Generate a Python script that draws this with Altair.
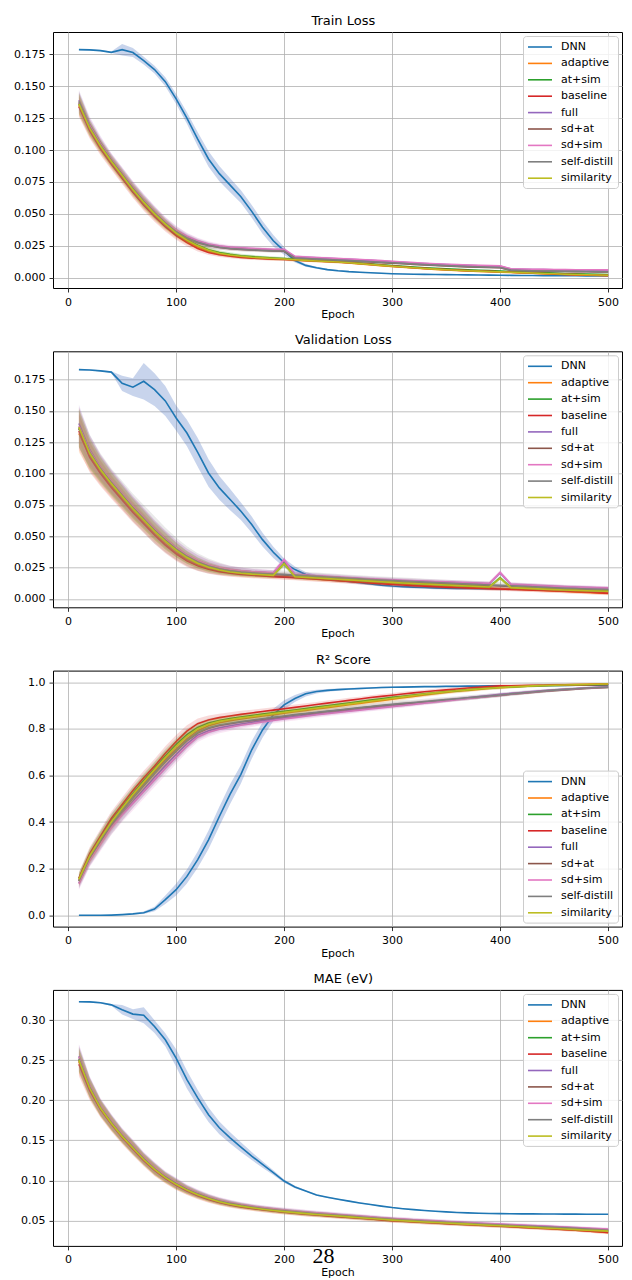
import altair as alt
import pandas as pd

EPOCHS = list(range(10, 510, 10))
SERIES = ["DNN", "adaptive", "at+sim", "baseline", "full", "sd+at", "sd+sim", "self-distill", "similarity"]
COLORS = ["#1f77b4", "#ff7f0e", "#2ca02c", "#d62728", "#9467bd", "#8c564b", "#e377c2", "#7f7f7f", "#bcbd22"]
BAND_FILLS = ["#4a6fc0", "#ff7f0e", "#2ca02c", "#d62728", "#9467bd", "#8c564b", "#e377c2", "#7f7f7f", "#bcbd22"]
BAND_OPACITY = [0.3, 0.17, 0.17, 0.17, 0.17, 0.17, 0.17, 0.17, 0.17]
X_TICKS = [0, 100, 200, 300, 400, 500]
TITLES = ["Train Loss", "Validation Loss", "R² Score", "MAE (eV)"]
PAGE_NUMBER = ["28"]

# ---------------- Train Loss ----------------
train_dnn = [
    0.1786, 0.1784, 0.1778, 0.1765, 0.1786, 0.1763, 0.1700, 0.1630, 0.1535, 0.1400,
    0.1250, 0.1085, 0.0930, 0.0815, 0.0725, 0.0635, 0.0520, 0.0395, 0.0290, 0.0210,
    0.0135, 0.0097, 0.0078, 0.0064, 0.0055, 0.0048, 0.0043, 0.0039, 0.0035, 0.0032,
    0.0030, 0.0028, 0.0027, 0.0026, 0.0025, 0.0024, 0.0023, 0.0022, 0.0021, 0.0020,
    0.0019, 0.0018, 0.0018, 0.0017, 0.0017, 0.0016, 0.0016, 0.0015, 0.0015, 0.0015]
train_adaptive = [
    0.135, 0.116, 0.102, 0.090, 0.079, 0.068, 0.058, 0.049, 0.041, 0.034,
    0.0288, 0.0243, 0.0210, 0.0188, 0.0174, 0.0165, 0.0158, 0.0153, 0.0149, 0.0145,
    0.0139, 0.0134, 0.0129, 0.0125, 0.0121, 0.0116, 0.0109, 0.0102, 0.0095, 0.0088,
    0.0082, 0.0076, 0.0071, 0.0066, 0.0061, 0.0057, 0.0053, 0.0050, 0.0047, 0.0044,
    0.0041, 0.0038, 0.0035, 0.0032, 0.0029, 0.0026, 0.0023, 0.0021, 0.0019, 0.0017]
train_at_sim = [
    0.136, 0.117, 0.103, 0.091, 0.080, 0.069, 0.059, 0.050, 0.042, 0.0352,
    0.0298, 0.0254, 0.0220, 0.0197, 0.0183, 0.0173, 0.0166, 0.0160, 0.0155, 0.0151,
    0.0144, 0.0139, 0.0135, 0.0131, 0.0127, 0.0122, 0.0116, 0.0109, 0.0102, 0.0096,
    0.0090, 0.0084, 0.0079, 0.0074, 0.0070, 0.0066, 0.0062, 0.0059, 0.0056, 0.0053,
    0.0049, 0.0046, 0.0043, 0.0040, 0.0037, 0.0034, 0.0032, 0.0030, 0.0028, 0.0026]
train_baseline = [
    0.134, 0.115, 0.101, 0.089, 0.078, 0.067, 0.057, 0.048, 0.040, 0.033,
    0.0275, 0.0230, 0.0198, 0.0180, 0.0168, 0.0160, 0.0154, 0.0150, 0.0146, 0.0143,
    0.0139, 0.0135, 0.0131, 0.0127, 0.0123, 0.0118, 0.0112, 0.0105, 0.0098, 0.0091,
    0.0085, 0.0079, 0.0074, 0.0069, 0.0064, 0.0060, 0.0056, 0.0053, 0.0050, 0.0047,
    0.0043, 0.0039, 0.0036, 0.0033, 0.0030, 0.0027, 0.0025, 0.0023, 0.0021, 0.0019]
train_full = [
    0.139, 0.120, 0.106, 0.093, 0.082, 0.071, 0.061, 0.052, 0.0435, 0.037,
    0.0320, 0.0285, 0.0260, 0.0245, 0.0235, 0.0230, 0.0225, 0.0222, 0.0219, 0.0218,
    0.0165, 0.0160, 0.0156, 0.0152, 0.0148, 0.0144, 0.0140, 0.0136, 0.0131, 0.0126,
    0.0121, 0.0116, 0.0111, 0.0107, 0.0103, 0.0100, 0.0097, 0.0094, 0.0092, 0.0090,
    0.0069, 0.0067, 0.0065, 0.0064, 0.0063, 0.0062, 0.0061, 0.0061, 0.0060, 0.0060]
train_sd_at = [
    0.137, 0.118, 0.104, 0.092, 0.081, 0.070, 0.060, 0.051, 0.0425, 0.0355,
    0.0308, 0.0275, 0.0252, 0.0237, 0.0228, 0.0222, 0.0217, 0.0213, 0.0210, 0.0208,
    0.0152, 0.0147, 0.0143, 0.0139, 0.0135, 0.0131, 0.0127, 0.0123, 0.0119, 0.0115,
    0.0110, 0.0105, 0.0100, 0.0096, 0.0092, 0.0088, 0.0085, 0.0082, 0.0080, 0.0078,
    0.0058, 0.0055, 0.0053, 0.0051, 0.0050, 0.0049, 0.0048, 0.0047, 0.0046, 0.0045]
train_sd_sim = [
    0.137, 0.119, 0.105, 0.093, 0.082, 0.071, 0.061, 0.052, 0.044, 0.0375,
    0.0325, 0.0290, 0.0265, 0.0250, 0.0240, 0.0235, 0.0230, 0.0226, 0.0223, 0.0222,
    0.0168, 0.0163, 0.0159, 0.0155, 0.0151, 0.0147, 0.0143, 0.0139, 0.0134, 0.0129,
    0.0124, 0.0119, 0.0114, 0.0110, 0.0106, 0.0103, 0.0100, 0.0097, 0.0095, 0.0093,
    0.0071, 0.0069, 0.0067, 0.0066, 0.0065, 0.0064, 0.0063, 0.0063, 0.0062, 0.0062]
train_self_distill = [
    0.138, 0.118, 0.104, 0.092, 0.081, 0.070, 0.060, 0.051, 0.043, 0.036,
    0.0312, 0.0278, 0.0254, 0.0239, 0.0229, 0.0223, 0.0218, 0.0214, 0.0211, 0.0210,
    0.0155, 0.0150, 0.0146, 0.0142, 0.0138, 0.0134, 0.0130, 0.0126, 0.0122, 0.0118,
    0.0113, 0.0108, 0.0103, 0.0099, 0.0095, 0.0091, 0.0088, 0.0085, 0.0083, 0.0081,
    0.0060, 0.0057, 0.0055, 0.0053, 0.0052, 0.0051, 0.0050, 0.0049, 0.0048, 0.0047]
train_similarity = [
    0.136, 0.117, 0.103, 0.091, 0.080, 0.069, 0.059, 0.050, 0.042, 0.035,
    0.0295, 0.0250, 0.0215, 0.0192, 0.0178, 0.0168, 0.0161, 0.0156, 0.0151, 0.0147,
    0.0141, 0.0136, 0.0131, 0.0127, 0.0123, 0.0118, 0.0111, 0.0104, 0.0097, 0.0090,
    0.0084, 0.0078, 0.0073, 0.0068, 0.0063, 0.0059, 0.0055, 0.0052, 0.0049, 0.0046,
    0.0043, 0.0040, 0.0037, 0.0034, 0.0031, 0.0028, 0.0026, 0.0024, 0.0022, 0.0020]
train_dnn_std = [
    0.0004, 0.0004, 0.0005, 0.0006, 0.0045, 0.0035, 0.0030, 0.0030, 0.0035, 0.0040,
    0.0045, 0.0055, 0.0060, 0.0060, 0.0055, 0.0050, 0.0050, 0.0050, 0.0045, 0.0030,
    0.0015, 0.0010, 0.0008, 0.0007, 0.0006, 0.0005, 0.0005, 0.0004, 0.0004, 0.0004,
    0.0003, 0.0003, 0.0003, 0.0003, 0.0003, 0.0003, 0.0003, 0.0003, 0.0003, 0.0003,
    0.0003, 0.0003, 0.0003, 0.0003, 0.0003, 0.0003, 0.0003, 0.0003, 0.0003, 0.0003]
train_model_std = [
    0.0080, 0.0060, 0.0050, 0.0045, 0.0045, 0.0045, 0.0045, 0.0042, 0.0038, 0.0033,
    0.0028, 0.0024, 0.0020, 0.0018, 0.0016, 0.0015, 0.0014, 0.0013, 0.0013, 0.0012,
    0.0011, 0.0010, 0.0010, 0.0009, 0.0009, 0.0009, 0.0008, 0.0008, 0.0008, 0.0008,
    0.0007, 0.0007, 0.0007, 0.0007, 0.0007, 0.0007, 0.0007, 0.0007, 0.0007, 0.0007,
    0.0006, 0.0006, 0.0006, 0.0006, 0.0006, 0.0006, 0.0006, 0.0006, 0.0006, 0.0006]

# ---------------- Validation Loss ----------------
val_dnn = [
    0.1830, 0.1827, 0.1820, 0.1810, 0.1720, 0.1690, 0.1737, 0.1670, 0.1580, 0.1444,
    0.1324, 0.1170, 0.1005, 0.0886, 0.0793, 0.0700, 0.0593, 0.0473, 0.0372, 0.0287,
    0.0234, 0.0194, 0.0173, 0.0160, 0.0150, 0.0140, 0.0130, 0.0120, 0.0110, 0.0103,
    0.0098, 0.0094, 0.0091, 0.0088, 0.0086, 0.0084, 0.0083, 0.0082, 0.0081, 0.0080,
    0.0079, 0.0078, 0.0077, 0.0076, 0.0075, 0.0075, 0.0074, 0.0074, 0.0073, 0.0073]
val_adaptive = [
    0.132, 0.114, 0.101, 0.090, 0.080, 0.070, 0.061, 0.052, 0.044, 0.037,
    0.0315, 0.0272, 0.0243, 0.0223, 0.0210, 0.0200, 0.0193, 0.0187, 0.0182, 0.0178,
    0.0172, 0.0166, 0.0160, 0.0154, 0.0148, 0.0142, 0.0136, 0.0131, 0.0126, 0.0121,
    0.0116, 0.0111, 0.0107, 0.0103, 0.0099, 0.0095, 0.0092, 0.0089, 0.0086, 0.0083,
    0.0080, 0.0076, 0.0072, 0.0068, 0.0064, 0.0060, 0.0056, 0.0052, 0.0048, 0.0044]
val_at_sim = [
    0.136, 0.116, 0.103, 0.092, 0.082, 0.072, 0.063, 0.054, 0.046, 0.039,
    0.0330, 0.0286, 0.0253, 0.0231, 0.0216, 0.0206, 0.0199, 0.0194, 0.0189, 0.0282,
    0.0178, 0.0173, 0.0168, 0.0163, 0.0158, 0.0153, 0.0148, 0.0143, 0.0138, 0.0133,
    0.0128, 0.0124, 0.0120, 0.0116, 0.0112, 0.0108, 0.0104, 0.0100, 0.0096, 0.0168,
    0.0092, 0.0088, 0.0084, 0.0080, 0.0077, 0.0074, 0.0071, 0.0068, 0.0066, 0.0064]
val_baseline = [
    0.134, 0.113, 0.100, 0.089, 0.079, 0.069, 0.060, 0.051, 0.043, 0.036,
    0.0305, 0.0265, 0.0237, 0.0218, 0.0205, 0.0196, 0.0189, 0.0183, 0.0178, 0.0174,
    0.0169, 0.0163, 0.0157, 0.0151, 0.0145, 0.0139, 0.0133, 0.0127, 0.0121, 0.0116,
    0.0111, 0.0106, 0.0102, 0.0098, 0.0094, 0.0091, 0.0088, 0.0085, 0.0082, 0.0079,
    0.0076, 0.0073, 0.0070, 0.0067, 0.0064, 0.0061, 0.0058, 0.0055, 0.0050, 0.0046]
val_full = [
    0.140, 0.119, 0.105, 0.094, 0.084, 0.074, 0.065, 0.056, 0.048, 0.041,
    0.0350, 0.0305, 0.0272, 0.0249, 0.0233, 0.0223, 0.0216, 0.0211, 0.0207, 0.0308,
    0.0193, 0.0187, 0.0182, 0.0177, 0.0172, 0.0167, 0.0162, 0.0157, 0.0153, 0.0149,
    0.0145, 0.0142, 0.0139, 0.0136, 0.0133, 0.0130, 0.0127, 0.0124, 0.0121, 0.0208,
    0.0115, 0.0111, 0.0107, 0.0103, 0.0099, 0.0096, 0.0093, 0.0090, 0.0088, 0.0086]
val_sd_at = [
    0.136, 0.117, 0.104, 0.093, 0.083, 0.073, 0.064, 0.055, 0.047, 0.0395,
    0.0335, 0.0290, 0.0258, 0.0236, 0.0221, 0.0211, 0.0204, 0.0199, 0.0195, 0.0192,
    0.0186, 0.0181, 0.0176, 0.0171, 0.0166, 0.0161, 0.0156, 0.0151, 0.0147, 0.0143,
    0.0139, 0.0135, 0.0131, 0.0127, 0.0123, 0.0119, 0.0115, 0.0111, 0.0107, 0.0104,
    0.0100, 0.0096, 0.0092, 0.0088, 0.0084, 0.0081, 0.0078, 0.0075, 0.0073, 0.0071]
val_sd_sim = [
    0.138, 0.118, 0.105, 0.094, 0.084, 0.074, 0.065, 0.056, 0.048, 0.041,
    0.0352, 0.0308, 0.0275, 0.0252, 0.0236, 0.0226, 0.0219, 0.0214, 0.0210, 0.0312,
    0.0196, 0.0190, 0.0185, 0.0180, 0.0175, 0.0170, 0.0165, 0.0160, 0.0156, 0.0152,
    0.0148, 0.0145, 0.0142, 0.0139, 0.0136, 0.0133, 0.0130, 0.0127, 0.0124, 0.0212,
    0.0118, 0.0114, 0.0110, 0.0106, 0.0102, 0.0098, 0.0095, 0.0092, 0.0090, 0.0088]
val_self_distill = [
    0.137, 0.117, 0.104, 0.093, 0.083, 0.073, 0.064, 0.055, 0.047, 0.040,
    0.0340, 0.0295, 0.0262, 0.0240, 0.0225, 0.0215, 0.0208, 0.0203, 0.0199, 0.0196,
    0.0190, 0.0185, 0.0180, 0.0175, 0.0170, 0.0165, 0.0160, 0.0155, 0.0151, 0.0147,
    0.0143, 0.0139, 0.0135, 0.0131, 0.0127, 0.0123, 0.0119, 0.0115, 0.0111, 0.0108,
    0.0104, 0.0100, 0.0096, 0.0092, 0.0088, 0.0085, 0.0082, 0.0079, 0.0077, 0.0075]
val_similarity = [
    0.137, 0.116, 0.103, 0.092, 0.082, 0.072, 0.063, 0.054, 0.046, 0.039,
    0.0330, 0.0285, 0.0252, 0.0230, 0.0215, 0.0205, 0.0198, 0.0193, 0.0188, 0.0280,
    0.0177, 0.0172, 0.0167, 0.0162, 0.0157, 0.0152, 0.0147, 0.0142, 0.0137, 0.0132,
    0.0127, 0.0123, 0.0119, 0.0115, 0.0111, 0.0107, 0.0103, 0.0099, 0.0095, 0.0165,
    0.0090, 0.0086, 0.0082, 0.0078, 0.0074, 0.0071, 0.0068, 0.0065, 0.0063, 0.0061]
val_dnn_std = [
    0.0005, 0.0005, 0.0005, 0.0006, 0.0060, 0.0070, 0.0145, 0.0130, 0.0120, 0.0100,
    0.0105, 0.0115, 0.0110, 0.0095, 0.0085, 0.0070, 0.0065, 0.0055, 0.0045, 0.0035,
    0.0025, 0.0020, 0.0018, 0.0016, 0.0015, 0.0014, 0.0013, 0.0012, 0.0012, 0.0011,
    0.0010, 0.0010, 0.0010, 0.0010, 0.0010, 0.0010, 0.0010, 0.0010, 0.0010, 0.0010,
    0.0010, 0.0010, 0.0010, 0.0010, 0.0010, 0.0010, 0.0010, 0.0010, 0.0010, 0.0010]
val_model_std = [
    0.0150, 0.0120, 0.0100, 0.0090, 0.0085, 0.0080, 0.0075, 0.0070, 0.0065, 0.0058,
    0.0050, 0.0043, 0.0037, 0.0032, 0.0028, 0.0026, 0.0024, 0.0023, 0.0022, 0.0022,
    0.0021, 0.0020, 0.0020, 0.0019, 0.0019, 0.0018, 0.0018, 0.0018, 0.0017, 0.0017,
    0.0017, 0.0017, 0.0016, 0.0016, 0.0016, 0.0016, 0.0016, 0.0016, 0.0016, 0.0016,
    0.0015, 0.0015, 0.0015, 0.0015, 0.0015, 0.0015, 0.0015, 0.0015, 0.0015, 0.0015]
val_self_distill_std = [
    0.0160, 0.0140, 0.0120, 0.0110, 0.0110, 0.0110, 0.0110, 0.0110, 0.0100, 0.0090,
    0.0080, 0.0070, 0.0060, 0.0050, 0.0040, 0.0035, 0.0030, 0.0030, 0.0030, 0.0030,
    0.0030, 0.0030, 0.0030, 0.0029, 0.0029, 0.0028, 0.0028, 0.0028, 0.0027, 0.0027,
    0.0027, 0.0027, 0.0026, 0.0026, 0.0026, 0.0026, 0.0026, 0.0026, 0.0025, 0.0025,
    0.0025, 0.0025, 0.0025, 0.0024, 0.0024, 0.0023, 0.0022, 0.0021, 0.0020, 0.0020]

# ---------------- R² Score ----------------
r2_dnn = [
    0.000, 0.000, 0.000, 0.001, 0.003, 0.006, 0.011, 0.027, 0.067, 0.110,
    0.167, 0.239, 0.324, 0.424, 0.520, 0.605, 0.710, 0.795, 0.860, 0.903,
    0.930, 0.950, 0.960, 0.965, 0.968, 0.971, 0.973, 0.975, 0.977, 0.978,
    0.979, 0.980, 0.981, 0.981, 0.982, 0.982, 0.983, 0.983, 0.984, 0.984,
    0.985, 0.985, 0.985, 0.986, 0.986, 0.986, 0.987, 0.987, 0.987, 0.988]
r2_adaptive = [
    0.150, 0.250, 0.325, 0.395, 0.455, 0.512, 0.565, 0.617, 0.668, 0.713,
    0.757, 0.792, 0.813, 0.826, 0.835, 0.842, 0.849, 0.855, 0.861, 0.867,
    0.873, 0.879, 0.885, 0.891, 0.897, 0.903, 0.909, 0.915, 0.921, 0.927,
    0.933, 0.939, 0.945, 0.951, 0.956, 0.961, 0.965, 0.969, 0.973, 0.976,
    0.979, 0.982, 0.984, 0.986, 0.988, 0.989, 0.990, 0.991, 0.992, 0.993]
r2_at_sim = [
    0.158, 0.258, 0.333, 0.405, 0.465, 0.523, 0.578, 0.630, 0.683, 0.732,
    0.775, 0.806, 0.825, 0.836, 0.844, 0.851, 0.857, 0.863, 0.869, 0.875,
    0.881, 0.887, 0.893, 0.899, 0.905, 0.911, 0.917, 0.923, 0.929, 0.935,
    0.940, 0.945, 0.950, 0.955, 0.960, 0.964, 0.968, 0.972, 0.975, 0.978,
    0.980, 0.982, 0.984, 0.985, 0.986, 0.987, 0.988, 0.989, 0.989, 0.990]
r2_baseline = [
    0.160, 0.265, 0.340, 0.415, 0.475, 0.535, 0.590, 0.640, 0.695, 0.745,
    0.790, 0.822, 0.838, 0.848, 0.855, 0.862, 0.868, 0.874, 0.880, 0.886,
    0.892, 0.898, 0.904, 0.910, 0.916, 0.922, 0.928, 0.934, 0.939, 0.944,
    0.949, 0.954, 0.959, 0.963, 0.967, 0.971, 0.975, 0.978, 0.981, 0.984,
    0.985, 0.986, 0.987, 0.987, 0.988, 0.988, 0.989, 0.989, 0.990, 0.990]
r2_full = [
    0.138, 0.240, 0.312, 0.382, 0.438, 0.490, 0.541, 0.592, 0.642, 0.690,
    0.736, 0.773, 0.792, 0.804, 0.813, 0.821, 0.828, 0.835, 0.841, 0.847,
    0.853, 0.858, 0.863, 0.868, 0.873, 0.878, 0.883, 0.888, 0.893, 0.898,
    0.903, 0.908, 0.913, 0.918, 0.923, 0.928, 0.933, 0.938, 0.943, 0.948,
    0.952, 0.956, 0.960, 0.964, 0.967, 0.970, 0.973, 0.976, 0.978, 0.980]
r2_sd_at = [
    0.147, 0.246, 0.320, 0.390, 0.448, 0.503, 0.556, 0.608, 0.658, 0.704,
    0.748, 0.782, 0.802, 0.814, 0.822, 0.829, 0.835, 0.841, 0.847, 0.853,
    0.859, 0.864, 0.869, 0.874, 0.879, 0.884, 0.889, 0.894, 0.899, 0.903,
    0.907, 0.911, 0.915, 0.919, 0.923, 0.927, 0.931, 0.935, 0.939, 0.943,
    0.948, 0.952, 0.956, 0.960, 0.964, 0.967, 0.970, 0.973, 0.975, 0.977]
r2_sd_sim = [
    0.135, 0.235, 0.305, 0.375, 0.430, 0.480, 0.530, 0.580, 0.630, 0.678,
    0.725, 0.765, 0.785, 0.798, 0.807, 0.815, 0.822, 0.829, 0.836, 0.842,
    0.848, 0.854, 0.860, 0.865, 0.870, 0.875, 0.880, 0.885, 0.890, 0.895,
    0.900, 0.905, 0.910, 0.915, 0.920, 0.925, 0.930, 0.935, 0.940, 0.945,
    0.950, 0.954, 0.958, 0.962, 0.966, 0.969, 0.972, 0.975, 0.977, 0.979]
r2_self_distill = [
    0.148, 0.248, 0.322, 0.392, 0.450, 0.505, 0.558, 0.610, 0.660, 0.706,
    0.750, 0.784, 0.804, 0.816, 0.824, 0.831, 0.837, 0.843, 0.849, 0.855,
    0.861, 0.866, 0.871, 0.876, 0.881, 0.886, 0.891, 0.896, 0.901, 0.905,
    0.909, 0.913, 0.917, 0.921, 0.925, 0.929, 0.933, 0.937, 0.941, 0.945,
    0.950, 0.954, 0.958, 0.962, 0.966, 0.969, 0.972, 0.975, 0.977, 0.979]
r2_similarity = [
    0.155, 0.255, 0.330, 0.400, 0.460, 0.518, 0.572, 0.625, 0.677, 0.725,
    0.768, 0.800, 0.820, 0.832, 0.840, 0.847, 0.853, 0.859, 0.865, 0.871,
    0.877, 0.883, 0.889, 0.895, 0.901, 0.907, 0.913, 0.919, 0.925, 0.931,
    0.937, 0.943, 0.949, 0.954, 0.959, 0.963, 0.967, 0.971, 0.974, 0.977,
    0.980, 0.982, 0.984, 0.986, 0.987, 0.988, 0.989, 0.990, 0.991, 0.992]
r2_dnn_std = [
    0.0005, 0.0005, 0.0005, 0.0008, 0.0020, 0.0030, 0.0050, 0.0100, 0.0180, 0.0250,
    0.0300, 0.0350, 0.0400, 0.0420, 0.0420, 0.0400, 0.0380, 0.0330, 0.0260, 0.0200,
    0.0150, 0.0110, 0.0080, 0.0060, 0.0050, 0.0040, 0.0040, 0.0030, 0.0030, 0.0030,
    0.0025, 0.0025, 0.0025, 0.0025, 0.0025, 0.0025, 0.0025, 0.0025, 0.0025, 0.0025,
    0.0025, 0.0025, 0.0025, 0.0025, 0.0025, 0.0025, 0.0025, 0.0025, 0.0025, 0.0025]
r2_model_std = [
    0.025, 0.028, 0.030, 0.030, 0.030, 0.030, 0.030, 0.030, 0.030, 0.028,
    0.025, 0.022, 0.019, 0.017, 0.016, 0.015, 0.014, 0.013, 0.013, 0.012,
    0.012, 0.012, 0.011, 0.011, 0.011, 0.011, 0.010, 0.010, 0.010, 0.010,
    0.010, 0.009, 0.009, 0.009, 0.008, 0.008, 0.008, 0.007, 0.007, 0.007,
    0.006, 0.006, 0.006, 0.005, 0.005, 0.005, 0.005, 0.004, 0.004, 0.004]
r2_self_distill_std = [
    0.030, 0.035, 0.040, 0.045, 0.045, 0.045, 0.045, 0.045, 0.045, 0.042,
    0.036, 0.030, 0.025, 0.022, 0.020, 0.019, 0.018, 0.017, 0.016, 0.016,
    0.015, 0.015, 0.015, 0.014, 0.014, 0.014, 0.014, 0.013, 0.013, 0.013,
    0.013, 0.012, 0.012, 0.012, 0.011, 0.011, 0.011, 0.010, 0.010, 0.010,
    0.009, 0.009, 0.008, 0.008, 0.007, 0.007, 0.006, 0.006, 0.005, 0.005]

# ---------------- MAE (eV) ----------------
mae_dnn = [
    0.3230, 0.3228, 0.3216, 0.3190, 0.3130, 0.3075, 0.3060, 0.2920, 0.2755, 0.2527,
    0.2258, 0.2030, 0.1820, 0.1657, 0.1532, 0.1416, 0.1304, 0.1200, 0.1097, 0.0993,
    0.0919, 0.0869, 0.0818, 0.0790, 0.0765, 0.0742, 0.0720, 0.0700, 0.0680, 0.0662,
    0.0648, 0.0636, 0.0625, 0.0616, 0.0608, 0.0601, 0.0596, 0.0592, 0.0589, 0.0587,
    0.0585, 0.0584, 0.0583, 0.0582, 0.0581, 0.0580, 0.0580, 0.0579, 0.0579, 0.0578]
mae_adaptive = [
    0.248, 0.2140, 0.1895, 0.1710, 0.1545, 0.1400, 0.1257, 0.1133, 0.1030, 0.0947,
    0.0875, 0.0817, 0.0769, 0.0730, 0.0700, 0.0676, 0.0656, 0.0638, 0.0622, 0.0608,
    0.0595, 0.0583, 0.0572, 0.0562, 0.0552, 0.0542, 0.0532, 0.0522, 0.0512, 0.0502,
    0.0494, 0.0486, 0.0479, 0.0472, 0.0465, 0.0458, 0.0451, 0.0444, 0.0438, 0.0432,
    0.0425, 0.0418, 0.0411, 0.0404, 0.0397, 0.0390, 0.0380, 0.0370, 0.0360, 0.0350]
mae_at_sim = [
    0.251, 0.2155, 0.1905, 0.1720, 0.1555, 0.1410, 0.1266, 0.1142, 0.1039, 0.0956,
    0.0884, 0.0826, 0.0778, 0.0739, 0.0708, 0.0684, 0.0664, 0.0646, 0.0630, 0.0616,
    0.0603, 0.0591, 0.0580, 0.0570, 0.0560, 0.0550, 0.0540, 0.0530, 0.0520, 0.0510,
    0.0502, 0.0494, 0.0487, 0.0480, 0.0473, 0.0466, 0.0459, 0.0452, 0.0446, 0.0440,
    0.0433, 0.0426, 0.0419, 0.0412, 0.0405, 0.0398, 0.0391, 0.0384, 0.0375, 0.0366]
mae_baseline = [
    0.245, 0.2120, 0.1885, 0.1700, 0.1535, 0.1390, 0.1248, 0.1125, 0.1022, 0.0940,
    0.0868, 0.0810, 0.0763, 0.0725, 0.0695, 0.0671, 0.0651, 0.0634, 0.0619, 0.0605,
    0.0592, 0.0580, 0.0569, 0.0559, 0.0549, 0.0539, 0.0529, 0.0519, 0.0509, 0.0499,
    0.0491, 0.0483, 0.0476, 0.0469, 0.0462, 0.0455, 0.0448, 0.0441, 0.0435, 0.0429,
    0.0422, 0.0415, 0.0408, 0.0401, 0.0394, 0.0387, 0.0380, 0.0372, 0.0362, 0.0352]
mae_full = [
    0.255, 0.2175, 0.1920, 0.1735, 0.1570, 0.1425, 0.1281, 0.1157, 0.1053, 0.0970,
    0.0898, 0.0840, 0.0791, 0.0751, 0.0720, 0.0695, 0.0675, 0.0657, 0.0641, 0.0627,
    0.0614, 0.0602, 0.0591, 0.0581, 0.0571, 0.0561, 0.0551, 0.0541, 0.0531, 0.0521,
    0.0513, 0.0505, 0.0498, 0.0491, 0.0484, 0.0477, 0.0470, 0.0463, 0.0457, 0.0451,
    0.0445, 0.0439, 0.0433, 0.0427, 0.0421, 0.0415, 0.0408, 0.0401, 0.0394, 0.0387]
mae_sd_at = [
    0.250, 0.2160, 0.1908, 0.1723, 0.1558, 0.1413, 0.1270, 0.1146, 0.1043, 0.0960,
    0.0888, 0.0830, 0.0782, 0.0742, 0.0711, 0.0686, 0.0666, 0.0648, 0.0632, 0.0618,
    0.0605, 0.0593, 0.0582, 0.0572, 0.0562, 0.0552, 0.0542, 0.0532, 0.0522, 0.0512,
    0.0504, 0.0496, 0.0489, 0.0482, 0.0475, 0.0468, 0.0461, 0.0454, 0.0448, 0.0442,
    0.0436, 0.0430, 0.0424, 0.0418, 0.0412, 0.0406, 0.0399, 0.0392, 0.0385, 0.0378]
mae_sd_sim = [
    0.254, 0.2180, 0.1925, 0.1740, 0.1575, 0.1430, 0.1286, 0.1162, 0.1058, 0.0975,
    0.0903, 0.0845, 0.0796, 0.0756, 0.0725, 0.0700, 0.0680, 0.0662, 0.0646, 0.0632,
    0.0619, 0.0607, 0.0596, 0.0586, 0.0576, 0.0566, 0.0556, 0.0546, 0.0536, 0.0526,
    0.0518, 0.0510, 0.0503, 0.0496, 0.0489, 0.0482, 0.0475, 0.0468, 0.0462, 0.0456,
    0.0450, 0.0444, 0.0438, 0.0432, 0.0426, 0.0420, 0.0414, 0.0407, 0.0400, 0.0393]
mae_self_distill = [
    0.252, 0.2165, 0.1912, 0.1727, 0.1562, 0.1417, 0.1273, 0.1149, 0.1046, 0.0963,
    0.0891, 0.0833, 0.0785, 0.0745, 0.0714, 0.0689, 0.0669, 0.0651, 0.0635, 0.0621,
    0.0608, 0.0596, 0.0585, 0.0575, 0.0565, 0.0555, 0.0545, 0.0535, 0.0525, 0.0515,
    0.0507, 0.0499, 0.0492, 0.0485, 0.0478, 0.0471, 0.0464, 0.0457, 0.0451, 0.0445,
    0.0439, 0.0433, 0.0427, 0.0421, 0.0415, 0.0409, 0.0402, 0.0395, 0.0387, 0.0379]
mae_similarity = [
    0.250, 0.2150, 0.1900, 0.1715, 0.1550, 0.1405, 0.1262, 0.1138, 0.1035, 0.0952,
    0.0880, 0.0822, 0.0774, 0.0735, 0.0704, 0.0680, 0.0660, 0.0642, 0.0626, 0.0612,
    0.0599, 0.0587, 0.0576, 0.0566, 0.0556, 0.0546, 0.0536, 0.0526, 0.0516, 0.0506,
    0.0498, 0.0490, 0.0483, 0.0476, 0.0469, 0.0462, 0.0455, 0.0448, 0.0442, 0.0436,
    0.0429, 0.0422, 0.0415, 0.0408, 0.0401, 0.0394, 0.0387, 0.0380, 0.0374, 0.0368]
mae_dnn_std = [
    0.0010, 0.0010, 0.0010, 0.0010, 0.0060, 0.0060, 0.0100, 0.0080, 0.0080, 0.0110,
    0.0110, 0.0100, 0.0090, 0.0080, 0.0070, 0.0060, 0.0050, 0.0040, 0.0030, 0.0020,
    0.0015, 0.0010, 0.0010, 0.0008, 0.0008, 0.0007, 0.0007, 0.0006, 0.0006, 0.0006,
    0.0005, 0.0005, 0.0005, 0.0005, 0.0005, 0.0005, 0.0005, 0.0005, 0.0005, 0.0005,
    0.0005, 0.0005, 0.0005, 0.0005, 0.0005, 0.0005, 0.0005, 0.0005, 0.0005, 0.0005]
mae_model_std = [
    0.0150, 0.0120, 0.0100, 0.0090, 0.0080, 0.0080, 0.0070, 0.0070, 0.0060, 0.0060,
    0.0050, 0.0045, 0.0040, 0.0038, 0.0035, 0.0033, 0.0030, 0.0030, 0.0030, 0.0030,
    0.0030, 0.0029, 0.0028, 0.0028, 0.0027, 0.0027, 0.0026, 0.0026, 0.0025, 0.0025,
    0.0025, 0.0024, 0.0024, 0.0024, 0.0023, 0.0023, 0.0023, 0.0022, 0.0022, 0.0022,
    0.0022, 0.0021, 0.0021, 0.0021, 0.0021, 0.0020, 0.0020, 0.0020, 0.0020, 0.0020]

FONT = "DejaVu Sans"
PLOT_W = 569
PLOT_H = 256


def build_frame(series_lists, dnn_std, model_std, special_std=None):
    special_std = special_std or {}
    rows = []
    for name, vals in zip(SERIES, series_lists):
        if name == "DNN":
            std = dnn_std
        else:
            std = special_std.get(name, model_std)
        for e, v, s in zip(EPOCHS, vals, std):
            rows.append({"epoch": e, "series": name, "mean": v, "lo": v - s, "hi": v + s})
    return pd.DataFrame(rows)


def make_legend(orient):
    return alt.Legend(
        title=None, orient=orient, offset=4,
        symbolType="M-1,0H3", symbolSize=144, symbolStrokeWidth=1.6, symbolOpacity=1,
        labelFont=FONT, labelFontSize=11, labelColor="black", labelOffset=20,
        labelLimit=200, rowPadding=4.4, padding=4,
        fillColor="rgba(255,255,255,0.8)", strokeColor="#cccccc", cornerRadius=3,
    )


def panel(df, title, ydom, yticks, yfmt, legend_orient, extra=None):
    xscale = alt.Scale(domain=[-14.0, 512.85], nice=False, zero=False)
    yscale = alt.Scale(domain=ydom, nice=False, zero=False)
    xaxis = alt.Axis(values=X_TICKS, title="Epoch", format="d")
    yaxis = alt.Axis(values=yticks, format=yfmt, title=None)
    cscale = alt.Scale(domain=SERIES, range=COLORS)
    legend = make_legend(legend_orient)
    base = alt.Chart(df)
    layers = []
    for i, s in enumerate(SERIES):
        band = base.transform_filter(alt.datum.series == s).mark_area(
            color=BAND_FILLS[i], opacity=BAND_OPACITY[i], interpolate="linear"
        ).encode(
            x=alt.X("epoch:Q", scale=xscale, axis=xaxis),
            y=alt.Y("lo:Q", scale=yscale, axis=yaxis),
            y2="hi:Q",
        )
        line = base.transform_filter(alt.datum.series == s).mark_line(
            strokeWidth=1.6, interpolate="linear"
        ).encode(
            x=alt.X("epoch:Q", scale=xscale, axis=xaxis),
            y=alt.Y("mean:Q", scale=yscale, axis=yaxis),
            color=alt.Color("series:N", scale=cscale, legend=legend),
        )
        layers += [band, line]
    title_layer = alt.Chart(pd.DataFrame({"t": [title]})).mark_text(
        font=FONT, fontSize=13, color="black", align="center", baseline="alphabetic"
    ).encode(text="t:N", x=alt.value(290.3), y=alt.value(-7))
    layers.append(title_layer)
    if extra is not None:
        layers.append(extra)
    return alt.layer(*layers).properties(width=PLOT_W, height=PLOT_H)


train_df = build_frame([train_dnn, train_adaptive, train_at_sim, train_baseline, train_full,
                        train_sd_at, train_sd_sim, train_self_distill, train_similarity],
                       train_dnn_std, train_model_std)
val_df = build_frame([val_dnn, val_adaptive, val_at_sim, val_baseline, val_full,
                      val_sd_at, val_sd_sim, val_self_distill, val_similarity],
                     val_dnn_std, val_model_std, {"self-distill": val_self_distill_std})
r2_df = build_frame([r2_dnn, r2_adaptive, r2_at_sim, r2_baseline, r2_full,
                     r2_sd_at, r2_sd_sim, r2_self_distill, r2_similarity],
                    r2_dnn_std, r2_model_std, {"self-distill": r2_self_distill_std})
mae_df = build_frame([mae_dnn, mae_adaptive, mae_at_sim, mae_baseline, mae_full,
                      mae_sd_at, mae_sd_sim, mae_self_distill, mae_similarity],
                     mae_dnn_std, mae_model_std)

loss_ticks = [0.0, 0.025, 0.05, 0.075, 0.1, 0.125, 0.15, 0.175]

page_num = alt.Chart(pd.DataFrame({"t": PAGE_NUMBER})).mark_text(
    font="Liberation Serif", fontSize=22, color="black", align="center", baseline="alphabetic"
).encode(text="t:N", x=alt.value(270.5), y=alt.value(273))

p1 = panel(train_df, TITLES[0], [-0.008, 0.1924], loss_ticks, ".3f", "top-right")
p2 = panel(val_df, TITLES[1], [-0.0067, 0.1976], loss_ticks, ".3f", "top-right")
p3 = panel(r2_df, TITLES[2], [-0.0484, 1.0497], [0.0, 0.2, 0.4, 0.6, 0.8, 1.0], ".1f", "bottom-right")
p4 = panel(mae_df, TITLES[3], [0.0184, 0.3377], [0.05, 0.10, 0.15, 0.20, 0.25, 0.30], ".2f",
           "top-right", extra=page_num)

chart = alt.vconcat(p1, p2, p3, p4, spacing=63.3, bounds="flush").resolve_scale(
    color="independent", y="independent"
).configure(
    font=FONT, padding={"left": 5, "top": 6, "right": 0, "bottom": 0}
).configure_view(
    stroke="black", strokeWidth=1
).configure_axis(
    domain=False, grid=True, gridColor="#b0b0b0", gridWidth=0.8,
    ticks=True, tickColor="black", tickWidth=0.8, tickSize=4,
    labelFont=FONT, labelFontSize=11, labelColor="black", labelPadding=4,
    titleFont=FONT, titleFontSize=11, titleFontWeight="normal", titleColor="black", titlePadding=1.5,
)

chart.save("out.html", embed_options={"renderer": "svg", "actions": False})
